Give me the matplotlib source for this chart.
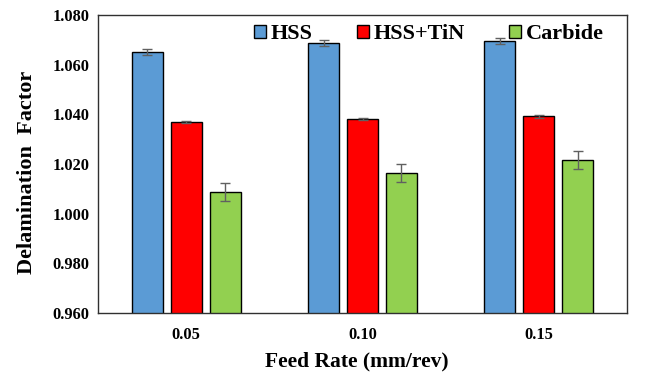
import numpy as np
import matplotlib
matplotlib.use("Agg")
import matplotlib.pyplot as plt

plt.rcParams['font.family'] = ['Liberation Serif', 'DejaVu Serif']
plt.rcParams['font.weight'] = 'bold'

# data
feed_rates = ["0.05", "0.10", "0.15"]
series = ["HSS", "HSS+TiN", "Carbide"]
hss = [1.0651, 1.0687, 1.0697]
hss_err = [0.0012, 0.0012, 0.0012]
tin = [1.0370, 1.0382, 1.0392]
tin_err = [0.0004, 0.0005, 0.0005]
carbide = [1.0088, 1.0164, 1.0215]
carbide_err = [0.0037, 0.0037, 0.0037]

colors = ["#5B9BD5", "#FF0000", "#92D050"]

fig = plt.figure(figsize=(6.45, 3.78), dpi=100)
ax = fig.add_axes([98/645, 1 - 313/378, 529/645, 298/378])

x = np.arange(len(feed_rates))
width = 0.176
pitch = 0.221
values = [hss, tin, carbide]
errors = [hss_err, tin_err, carbide_err]
for i in range(3):
    ax.bar(x + (i - 1)*pitch, values[i], width, bottom=0,
           color=colors[i], edgecolor='black', linewidth=1.0,
           label=series[i], zorder=2,
           yerr=errors[i], capsize=3.8,
           error_kw=dict(ecolor='#606060', elinewidth=1.0, capthick=1.0))

ax.set_ylim(0.960, 1.080)
ax.set_xlim(-0.5, 2.5)
ticks = np.arange(0.960, 1.0801, 0.020)
ax.set_yticks(ticks)
ax.set_yticklabels(["%.3f" % v for v in ticks])
ax.set_xticks(x)
ax.set_xticklabels(feed_rates)
ax.tick_params(axis='both', length=0, labelsize=11.8)
ax.tick_params(axis='y', pad=6)
ax.tick_params(axis='x', pad=10)
for lbl in ax.get_xticklabels() + ax.get_yticklabels():
    lbl.set_fontweight('bold')

for s in ax.spines.values():
    s.set_color('#303030')
    s.set_linewidth(1.0)

ax.set_ylabel("Delamination  Factor", fontsize=16, fontweight='bold')
ax.yaxis.set_label_coords(-0.115, 0.473)
ax.set_xlabel("Feed Rate (mm/rev)", fontsize=15.5, fontweight='bold')
ax.xaxis.set_label_coords(0.49, -0.13)

leg = ax.legend(loc='center', bbox_to_anchor=(0.625, 0.935), ncol=3,
                frameon=False, prop={'size': 16, 'weight': 'bold'},
                handlelength=0.55, handleheight=0.55, handletextpad=0.2,
                columnspacing=2.0)

plt.savefig("out.png", dpi=100)
